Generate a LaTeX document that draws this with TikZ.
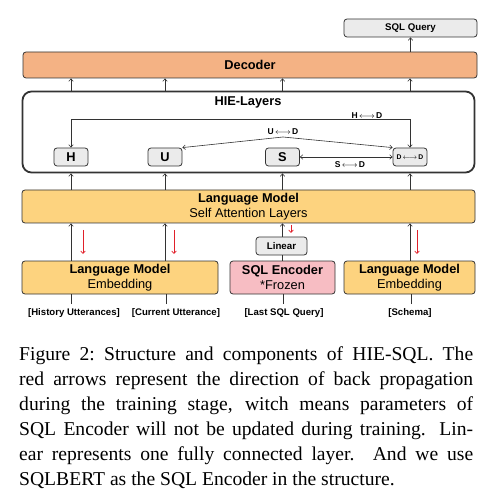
\documentclass[tikz,border=0pt]{standalone}
\usepackage{fontspec}
\setmainfont{Liberation Serif}
\setsansfont{Liberation Sans}
\usetikzlibrary{positioning,arrows.meta}
\definecolor{decfill}{HTML}{F4B284}
\definecolor{lmfill}{HTML}{FDD37F}
\definecolor{encfill}{HTML}{F7BDC3}
\definecolor{grayfill}{HTML}{EBEBEB}
\definecolor{bprop}{HTML}{E0202A}
\newcommand{\lr}{\,$\longleftrightarrow$\,}

\begin{document}
\begin{tikzpicture}[x=1pt,y=-1pt,
box/.style={draw=black!80,line width=0.8pt,rounded corners=3pt,inner sep=0pt,align=center,font=\sffamily\fontsize{12.8}{14.8}\selectfont},
small/.style={box,fill=grayfill,font=\sffamily\bfseries\fontsize{9.7}{11}\selectfont},
lbl/.style={font=\sffamily\bfseries\fontsize{9.6}{11}\selectfont,inner sep=0pt},
tiny/.style={font=\sffamily\bfseries\fontsize{8.5}{10}\selectfont,inner sep=0pt},
arr/.style={draw=black!80,line width=0.6pt,-{Straight Barb[length=2.5pt,width=4.5pt]}},
darr/.style={draw=black!80,line width=0.6pt,{Straight Barb[length=2.5pt,width=4.5pt]}-{Straight Barb[length=2.5pt,width=4.5pt]}},
back/.style={draw=bprop,line width=0.7pt,-{Straight Barb[length=2.5pt,width=4.5pt]}}]
\useasboundingbox (0,0) rectangle (498,497);

% output side
\node[small,minimum width=133pt,minimum height=18pt] (sqlq) at (410.5,28) {SQL Query};
\node[box,fill=decfill,minimum width=454pt,minimum height=26pt,font=\sffamily\bfseries\fontsize{12.8}{14}\selectfont] (dec) at (250,65) {Decoder};

% HIE layers
\node[box,line width=1.8pt,rounded corners=9pt,minimum width=452pt,minimum height=81pt] (hie) at (248.5,132) {};
\node[font=\sffamily\bfseries\fontsize{12.8}{14}\selectfont,inner sep=0pt] (hietitle) at (248,102) {HIE-Layers};
\node[small,font=\sffamily\bfseries\fontsize{12.8}{14}\selectfont,minimum width=34pt,minimum height=18pt] (H) at (71,157) {H};
\node[small,font=\sffamily\bfseries\fontsize{12.8}{14}\selectfont,minimum width=34pt,minimum height=18pt] (U) at (165,157) {U};
\node[small,font=\sffamily\bfseries\fontsize{12.8}{14}\selectfont,minimum width=34pt,minimum height=18pt] (S) at (282.5,157) {S};
\node[small,font=\sffamily\bfseries\fontsize{6.8}{8}\selectfont,minimum width=34pt,minimum height=18pt] (D) at (410,157) {D\lr D};
\coordinate (ud) at (283,137);

\draw[darr] (D.north) -- ++(0,-28) -| (H.north);
\node[tiny,anchor=south] (hdlbl) at (367,119) {H\lr D};
\draw[darr] (U.north east) -- (ud) -- (D.north west);
\node[tiny,anchor=south] (udlbl) at (283,135) {U\lr D};
\draw[darr] (S.east) -- (D.west);
\node[tiny] (sdlbl) at (350,164.5) {S\lr D};

% language model
\node[box,fill=lmfill,minimum width=453pt,minimum height=33pt] (lm) at (248.5,206.5) {\textbf{Language Model}\\Self Attention Layers};
\node[box,fill=lmfill,minimum width=196pt,minimum height=33pt] (emb1) at (120,277.5) {\textbf{Language Model}\\Embedding};
\node[box,fill=encfill,minimum width=105pt,minimum height=33pt] (enc) at (282.5,277.5) {\textbf{SQL Encoder}\\*Frozen};
\node[box,fill=lmfill,minimum width=131pt,minimum height=33pt] (emb2) at (409.5,277.5) {\textbf{Language Model}\\Embedding};
\node[small,minimum width=51pt,minimum height=18pt] (lin) at (281.5,246) {Linear};

% inputs
\coordinate (in1) at (71,304);
\coordinate (in2) at (166,304);
\coordinate (in3) at (283,304);
\coordinate (in4) at (411,304);
\node[lbl] (t1) at (74,313) {[History Utterances]};
\node[lbl] (t2) at (176,313) {[Current Utterance]};
\node[lbl] (t3) at (284,313) {[Last SQL Query]};
\node[lbl] (t4) at (410,313) {[Schema]};

% upward flow
\draw[arr] (dec.north -| sqlq) -- (sqlq.south);
\foreach \c in {H,U,S,D} {
  \draw[arr] (hie.north -| \c) -- (dec.south -| \c);
  \draw[arr] (lm.north -| \c) -- (hie.south -| \c);
}
\draw[arr] (emb1.north -| H) -- (lm.south -| H);
\draw[arr] (emb1.north -| U) -- (lm.south -| U);
\draw[arr] (lin.north -| S) -- (lm.south -| S);
\draw[draw=black!80,line width=0.6pt] (enc.north -| S) -- (lin.south -| S);
\draw[arr] (emb2.north -| D) -- (lm.south -| D);
\draw[draw=black!80,line width=0.6pt] (in1) -- (emb1.south -| in1);
\draw[draw=black!80,line width=0.6pt] (in2) -- (emb1.south -| in2);
\draw[draw=black!80,line width=0.6pt] (in3) -- (enc.south -| in3);
\draw[draw=black!80,line width=0.6pt] (in4) -- (emb2.south -| in4);

% back propagation
\foreach \x/\t/\b in {83/230/254,174/230/254,291/225/233,417/230/254}
  \draw[back] (\x,\t) -- (\x,\b);

% caption
\node[anchor=north west,inner sep=0pt,text width=454pt,align=justify,font=\fontsize{19.6}{25}\selectfont] (cap) at (19,346)
{Figure 2:\ Structure and components of HIE-SQL. The\linebreak
red arrows represent the direction of back propagation\linebreak
during the training stage, witch means parameters of\linebreak
SQL Encoder will not be updated during training. Lin-\linebreak
ear represents one fully connected layer.  And we use\linebreak
SQLBERT as the SQL Encoder in the structure.};
\end{tikzpicture}
\end{document}
